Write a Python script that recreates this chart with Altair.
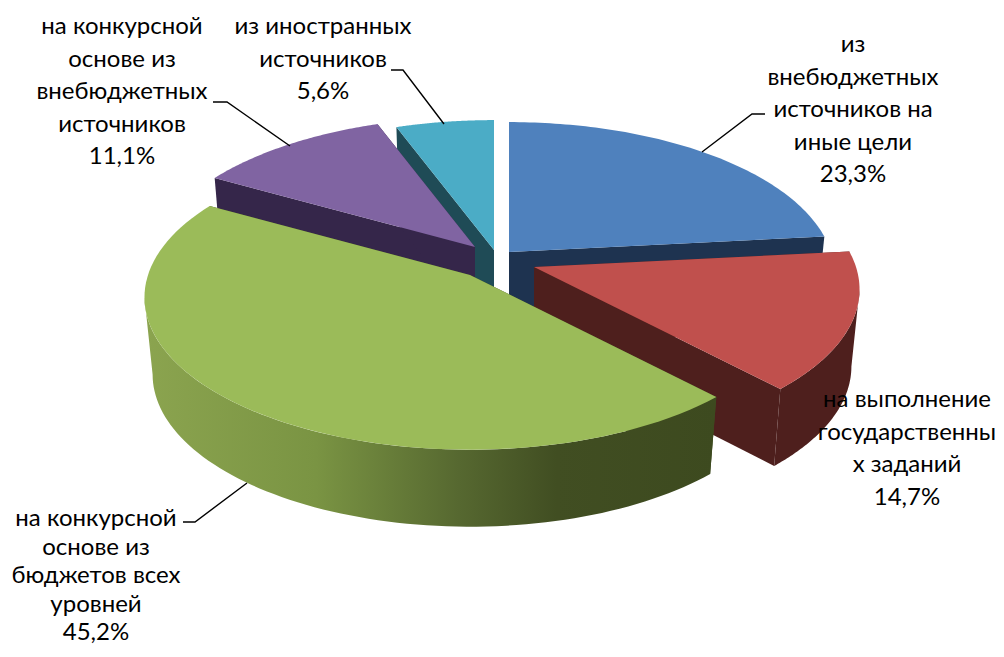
import math
import altair as alt

# ---- data ----
labels = [
    "из\nвнебюджетных\nисточников на\nиные цели\n23,3%",
    "на выполнение\nгосударственны\nх заданий\n14,7%",
    "на конкурсной\nоснове из\nбюджетов  всех\nуровней\n45,2%",
    "на конкурсной\nоснове из\nвнебюджетных\nисточников\n11,1%",
    "из иностранных\nисточников\n5,6%",
]
shares = [23.3, 14.7, 45.2, 11.1, 5.6]
top_colors = ["#4f81bd", "#c0504d", "#9bbb59", "#8064a2", "#4bacc6"]
wall_colors = ["#1e3350", "#4e1f1d", "#3f4b20", "#35264a", "#1f4b56"]

# ---- layout (page pixels) ----
apex = [(509, 252), (534, 267), (470, 275), (475, 247), (494, 250)]
label_pos = [(853, 45), (907, 400), (96, 519), (122, 27), (323, 27)]
line_heights = [32.5, 32.5, 28.5, 32.5, 32.5]
leaders = [
    [(702, 152), (752, 114), (765, 114)],
    None,
    [(183, 522), (195, 522), (247, 483)],
    [(213, 102), (227, 102), (290, 146)],
    [(391, 70), (403, 70), (444, 124)],
]
RX, RY, PERSP = 322.0, 149.0, 0.147
DEPTH, SHRINK = 77.0, 0.975
OFF = 8
draw_order = [0, 4, 3, 1, 2]
green_stops = [
    (0.0, "#8ba44f"), (0.3, "#7a9443"), (0.55, "#566830"),
    (0.72, "#414e22"), (1.0, "#3d4a1f"),
]
VISIBLE = (98.5, 261.5)


def pt(center, deg, bottom=False):
    t = math.radians(deg)
    s = 1 / (1 + PERSP * math.cos(t))
    dx, dy = RX * math.sin(t) * s, -RY * math.cos(t) * s
    if bottom:
        return [center[0] + dx * SHRINK - OFF, center[1] + dy + DEPTH - OFF]
    return [center[0] + dx - OFF, center[1] + dy - OFF]


def feature(coords, kind="Polygon"):
    geom = coords if kind == "LineString" else [coords + [coords[0]]]
    return {"type": "Feature", "properties": {},
            "geometry": {"type": kind, "coordinates": geom}}


proj = alt.Projection(type="identity", scale=1, translate=[0, 0])


def shape(coords, fill):
    return alt.Chart(alt.Data(values=[feature(coords)])).mark_geoshape(
        fill=fill, stroke=None, strokeWidth=0, filled=True
    ).project(**proj.to_dict())


def sweep(a, b, n=80):
    return [a + (b - a) * k / n for k in range(n + 1)]


total = sum(shares)
starts, ang = [], 0.0
for v in shares:
    starts.append(ang)
    ang += v / total * 360

layers = []
for i in draw_order:
    a0 = starts[i]
    a1 = a0 + shares[i] / total * 360
    c = apex[i]
    top_arc = [pt(c, a) for a in sweep(a0, a1)]
    ctop = [c[0] - OFF, c[1] - OFF]
    cbot = [c[0] - OFF, c[1] + DEPTH - OFF]
    wall = wall_colors[i]
    layers.append(shape([ctop, pt(c, a0), pt(c, a0, True), cbot], wall))
    layers.append(shape([ctop, pt(c, a1), pt(c, a1, True), cbot], wall))
    v0, v1 = max(a0, VISIBLE[0]), min(a1, VISIBLE[1])
    if v1 > v0:
        outer = wall
        if i == 2:
            outer = alt.Gradient(
                gradient="linear", x1=0, x2=1, y1=0, y2=0,
                stops=[alt.GradientStop(offset=o, color=col) for o, col in green_stops],
            )
        arc = sweep(v0, v1)
        layers.append(shape([pt(c, a) for a in arc] + [pt(c, a, True) for a in arc[::-1]], outer))
    layers.append(shape([ctop] + top_arc, top_colors[i]))

for path in leaders:
    if path:
        pts = [[x - OFF, y - OFF] for x, y in path]
        layers.append(
            alt.Chart(alt.Data(values=[feature(pts, "LineString")])).mark_geoshape(
                filled=False, stroke="black", strokeWidth=1.4
            ).project(**proj.to_dict())
        )

for text, (x, y), lh in zip(labels, label_pos, line_heights):
    layers.append(
        alt.Chart(alt.Data(values=[{"t": text}])).mark_text(
            font="Lato", fontSize=24, color="black", align="center",
            baseline="middle", lineBreak="\n", lineHeight=lh,
        ).encode(text="t:N", x=alt.value(x - OFF), y=alt.value(y - OFF))
    )

chart = alt.layer(*layers).properties(
    width=988, height=641, padding=0, autosize=alt.AutoSizeParams(type="none")
).configure_view(stroke=None)

chart.save("out.html", embed_options={"renderer": "svg", "actions": False})
